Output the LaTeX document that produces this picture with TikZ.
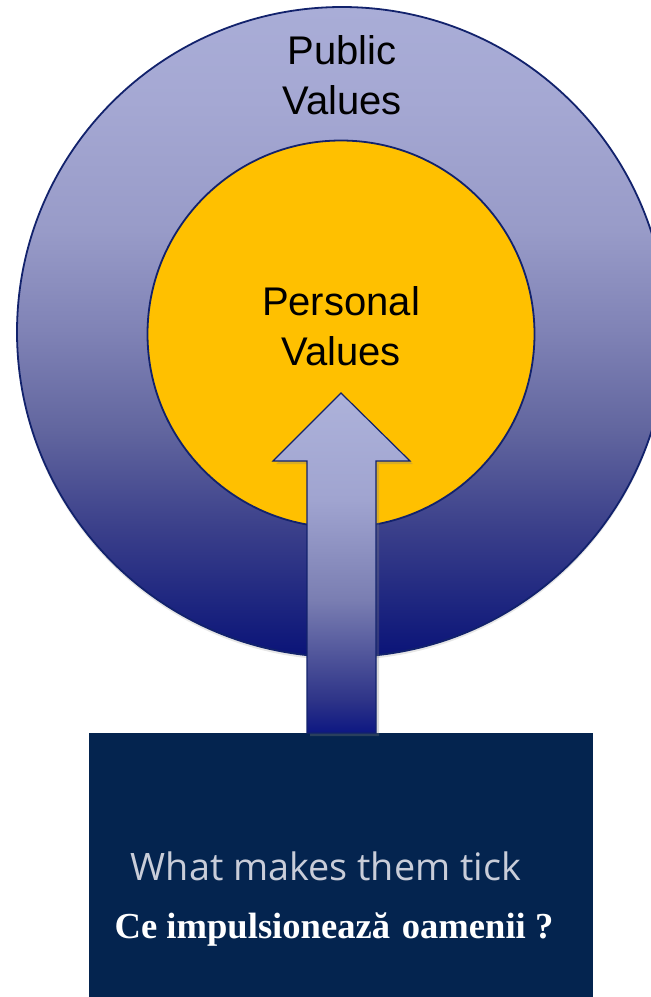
\documentclass[tikz,border=0pt]{standalone}
\usepackage{fontspec}
\setmainfont{Liberation Serif}
\newfontfamily\valuesans{Liberation Sans}
\newfontfamily\ticksans{Open Sans}
\usetikzlibrary{shadows}
\definecolor{ringA}{HTML}{A9ADD7}
\definecolor{ringB}{HTML}{A5A8D3}
\definecolor{ringC}{HTML}{989BC8}
\definecolor{ringD}{HTML}{8083B6}
\definecolor{ringE}{HTML}{62669F}
\definecolor{ringF}{HTML}{3A3F8A}
\definecolor{ringG}{HTML}{1F2780}
\definecolor{ringH}{HTML}{0A1378}
\definecolor{arrowA}{HTML}{ADB2DA}
\definecolor{arrowB}{HTML}{A0A4D0}
\definecolor{arrowC}{HTML}{7A7EB2}
\definecolor{arrowD}{HTML}{2E3488}
\definecolor{arrowE}{HTML}{0D1782}
\definecolor{edgeblue}{HTML}{12226C}
\definecolor{coreyellow}{HTML}{FFC000}
\definecolor{boxnavy}{HTML}{04244F}
\definecolor{ticktext}{HTML}{C9CDD9}
\pgfdeclareverticalshading{ringfade}{100bp}{color(0bp)=(ringH); color(25bp)=(ringH);
    color(29.4bp)=(ringG); color(34.8bp)=(ringF); color(42.5bp)=(ringE); color(50.2bp)=(ringD);
    color(57.8bp)=(ringC); color(67.8bp)=(ringB); color(75bp)=(ringA); color(100bp)=(ringA)}
\pgfdeclareverticalshading{arrowfade}{100bp}{color(0bp)=(arrowE); color(25bp)=(arrowE);
    color(29.9bp)=(arrowD); color(44.6bp)=(arrowC); color(59.3bp)=(arrowB);
    color(75bp)=(arrowA); color(100bp)=(arrowA)}
\tikzset{
    ring/.style={circle, draw=edgeblue, line width=0.9pt, inner sep=0pt},
    valuetext/.style={font=\valuesans\fontsize{20}{25}\selectfont, align=center, text=black},
    ticktxt/.style={font=\ticksans\fontsize{18.9}{22}\selectfont, text=ticktext, anchor=base},
    asktxt/.style={font=\bfseries\fontsize{18.3}{21}\selectfont, text=white, anchor=base}
}
\begin{document}
\begin{tikzpicture}[x=0.5pt, y=-0.5pt]
\useasboundingbox (0,0) rectangle (651,997);
\clip (0,0) rectangle (651,997);

% Circles
\node[ring, minimum size=325pt, shading=ringfade,
      drop shadow={opacity=0.2, shadow xshift=0pt, shadow yshift=-1.5pt}] (public) at (342,332) {};
\node[ring, minimum size=193.5pt, fill=coreyellow] (personal) at (341,334) {};

% Labels
\node[valuetext] (publiclabel) at (342,75) {Public\\Values};
\node[valuetext] (personallabel) at (341,326) {Personal\\Values};

% Bottom box
\fill[boxnavy] (89,733) rectangle (593,997);
\node[ticktxt] (tick) at (326,880) {What makes them tick};
\node[asktxt] (ask) at (334,938) {Ce impulsionează\hspace{0.32em}oamenii ?};

% Arrow
\coordinate (tip) at (341,393);
\path[draw=edgeblue, line width=0.6pt, shading=arrowfade,
      drop shadow={opacity=0.3, shadow xshift=1.5pt, shadow yshift=-1.5pt}]
    (tip) -- (410,461) -- (376,461) -- (376,733) -- (307,733) -- (307,461) -- (273,461) -- cycle;
\end{tikzpicture}
\end{document}
